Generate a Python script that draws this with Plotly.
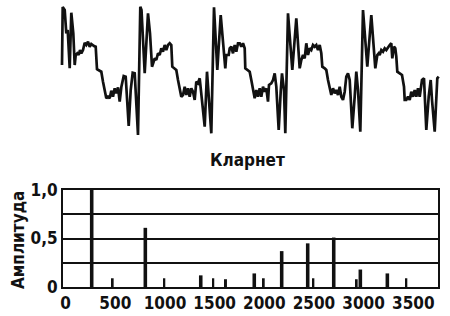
import plotly.graph_objects as go

# ---- waveform (time in arbitrary units, amplitude in arbitrary units)
wave_t = [
    -1, -0.3, 1.7, 3.3, 4.7, 6.7, 8.3, 10.3, 11.7, 12.7, 14.3, 15.7, 17, 18.3, 20, 21.7, 23.3, 25,
    26.7, 28.3, 31, 32.7, 34, 36.7, 38.3, 40, 41.7, 43.3, 45, 46.7, 48.3, 50, 51.7, 53.3, 55, 56.7,
    58.3, 60.7, 62.7, 65.7, 67.7, 69.7, 71.7, 73.3, 75,
    77.3, 78.5, 81.7, 85, 87, 89, 90.7, 91.7, 93.3, 95, 96.7, 98.3, 100, 101.7, 103.3, 105, 106.7,
    108.3, 109.3, 111.7, 113.3, 115, 116.7, 118.3, 120, 121.7, 123.3, 125, 126.7, 128.3, 130, 131.7,
    133.3, 135, 136.7, 141.7, 144, 148.3,
    151, 154.3, 157.7, 162.3, 163.3, 165.7, 166.7, 168.3, 170, 171.7, 173.3, 175, 176.7, 178.3, 180,
    181.7, 182.3, 184.3, 186.7, 188.3, 190, 191.7, 193.3, 195, 196.7, 198.3, 200, 201.7, 203.3, 205,
    206, 208.3, 210, 211.7, 213.3, 215.7, 217.7, 219, 221, 222.3,
    225, 229.3, 233.3, 236.7, 238.3, 240, 241.7, 243.3, 245, 246.7, 248.3, 250, 251.7, 253.3, 255,
    256.7, 258.3, 259.3, 261.7, 263.3, 265, 266.7, 268.3, 270, 271.7, 273.3, 275, 276.7, 278.3, 280,
    281.7, 283.3, 285, 286.7, 289.3, 291.7, 293.3, 295, 297.3,
    300, 304.3, 308.3, 312.3, 314.3, 315.7, 316.7, 318.3, 320, 321.7, 323.3, 325, 326.7, 328.3, 329.3,
    331, 332.3, 333.3, 334.3, 336.7, 339, 341, 341.7, 343.3, 345, 346.7, 348.3, 350, 351.7, 353.3,
    355, 356.7, 357.7, 359, 361, 363.3, 365.7, 367.7, 369, 371.7, 374.3, 375.7,
]
wave_a = [
    5, 63, 60, 36.7, 40, 1.7, 57.3, 36.7, 5, 15, 16.7, 15, 20, 16.7, 20, 27.3, 25, 28.3,
    23.3, 26, 24, 23.3, 0.7, -0.7, -1.7, -11.7, -20.7, -28.3, -26.7, -28.3, -20.7, -26.7, -18.3, -23.3, -17.3, -31.7,
    -17.3, -6, -6.7, -56, -20, -2.7, -3.3, -30, -65,
    63.3, 60, -3.3, 56.7, 36.7, 3.3, 8.3, 11.7, 10, 16.7, 15, 21.7, 18.3, 25, 20, 25, 26.7,
    25, 3.3, 1.7, 0, -10, -18.3, -26.7, -25, -16.7, -25, -18.3, -26.7, -18.3, -21.7, -30,
    -11.7, -13.3, -8.3, -56.7, -1.7, -63.3,
    62.7, 0, 55, 1.7, 15, 15, 21.7, 23.3, 16.7, 25, 18.3, 26.7, 26.7, 23.3, 26.7,
    21.7, 1.7, 0, -1.7, -10, -20, -28.3, -20, -26.7, -18.3, -26.7, -16.7, -21.7, -18.3, -31.7,
    -15, -13.3, -10, -3.3, -16.7, -60, -21.7, -3.3, -20, -63.3,
    56.7, 0, 51.7, 1.7, 10, 15, 11.7, 26.7, 15, 21.7, 20, 25, 23.3, 25, 20,
    25, 16.7, 3.3, 1.7, 0, -10, -20, -25, -18.3, -23.3, -20, -25, -16.7, -26.7, -30,
    -21.7, -6.7, -3.3, -10, -58.3, -26.7, -1.7, -20, -61.7,
    60, 3.3, 55, 1.7, 15, 16.7, 15, 20, 18.3, 21.7, 20, 23.3, 25, 26.7, 11.7,
    23.3, 21.7, 13.3, -1.7, -3.3, -5, -16.7, -30, -30, -26.7, -30, -21.7, -26.7, -20, -26.7,
    -18.3, -26.7, -18.3, -10, -8.3, -60, -26.7, -10, -30, -61.7, -8.3, -6.7,
]

# ---- spectrum
freq_hz = [262, 473, 802, 993, 1360, 1486, 1614, 1899, 1994, 2175, 2437, 2494, 2699, 2930, 2967, 3239, 3430]
amplitude = [1.0, 0.09, 0.61, 0.09, 0.12, 0.09, 0.08, 0.14, 0.09, 0.37, 0.45, 0.09, 0.51, 0.08, 0.18, 0.14, 0.09]

x_tick_vals = [0, 500, 1000, 1500, 2000, 2500, 3000, 3500]
x_tick_text = ["0", "500", "1000", "1500", "2000", "2500", "3000", "3500"]
y_tick_vals = [0, 0.25, 0.5, 0.75, 1.0]
y_tick_text = ["0", "", "0,5", "", "1,0"]
title_text = "Кларнет"
y_title_text = "Амплитуда"

W, H = 450, 316
INK = "#111111"
FONT = "Liberation Sans Narrow, DejaVu Sans Condensed, Roboto, sans-serif"

fig = go.Figure()
fig.add_trace(go.Scatter(
    x=wave_t, y=wave_a, mode="lines",
    line=dict(color=INK, width=2.7),
    xaxis="x2", yaxis="y2", hoverinfo="skip",
))
bar_widths = [36 if a >= 0.12 else 20 for a in amplitude]
fig.add_trace(go.Bar(
    x=freq_hz, y=amplitude, width=bar_widths,
    marker=dict(color=INK, line=dict(width=0)),
))

fig.update_layout(
    width=W, height=H,
    margin=dict(l=0, r=0, t=0, b=0),
    paper_bgcolor="white", plot_bgcolor="white",
    showlegend=False,
    font=dict(family=FONT, color=INK, size=17, weight="bold"),
    xaxis=dict(
        domain=[63 / W, 438 / W], range=[-27, 3749],
        tickvals=x_tick_vals, ticktext=x_tick_text,
        showgrid=False, zeroline=False, ticks="",
        showline=True, mirror=True, linecolor=INK, linewidth=2,
        tickfont=dict(size=17, weight="bold"), automargin=False,
    ),
    yaxis=dict(
        domain=[1 - 287 / H, 1 - 190 / H], range=[0, 1.0],
        tickvals=y_tick_vals, ticktext=y_tick_text,
        showgrid=True, gridcolor=INK, gridwidth=1.6,
        zeroline=False, ticks="",
        showline=True, mirror=True, linecolor=INK, linewidth=2,
        tickfont=dict(size=17, weight="bold"), automargin=False,
    ),
    xaxis2=dict(domain=[0, 1], range=[-63, 387], visible=False),
    yaxis2=dict(domain=[1 - 145 / H, 1], range=[-75, 70], visible=False),
    annotations=[
        dict(text=title_text, x=247 / W, y=1 - 160 / H, xref="paper", yref="paper",
             xanchor="center", yanchor="middle", showarrow=False,
             font=dict(size=17, family=FONT, color=INK, weight="bold")),
        dict(text=y_title_text, x=18 / W, y=1 - 240 / H, xref="paper", yref="paper",
             xanchor="center", yanchor="middle", showarrow=False, textangle=-90,
             font=dict(size=17, family=FONT, color=INK, weight="bold")),
    ],
)

fig.write_html("out.html")
